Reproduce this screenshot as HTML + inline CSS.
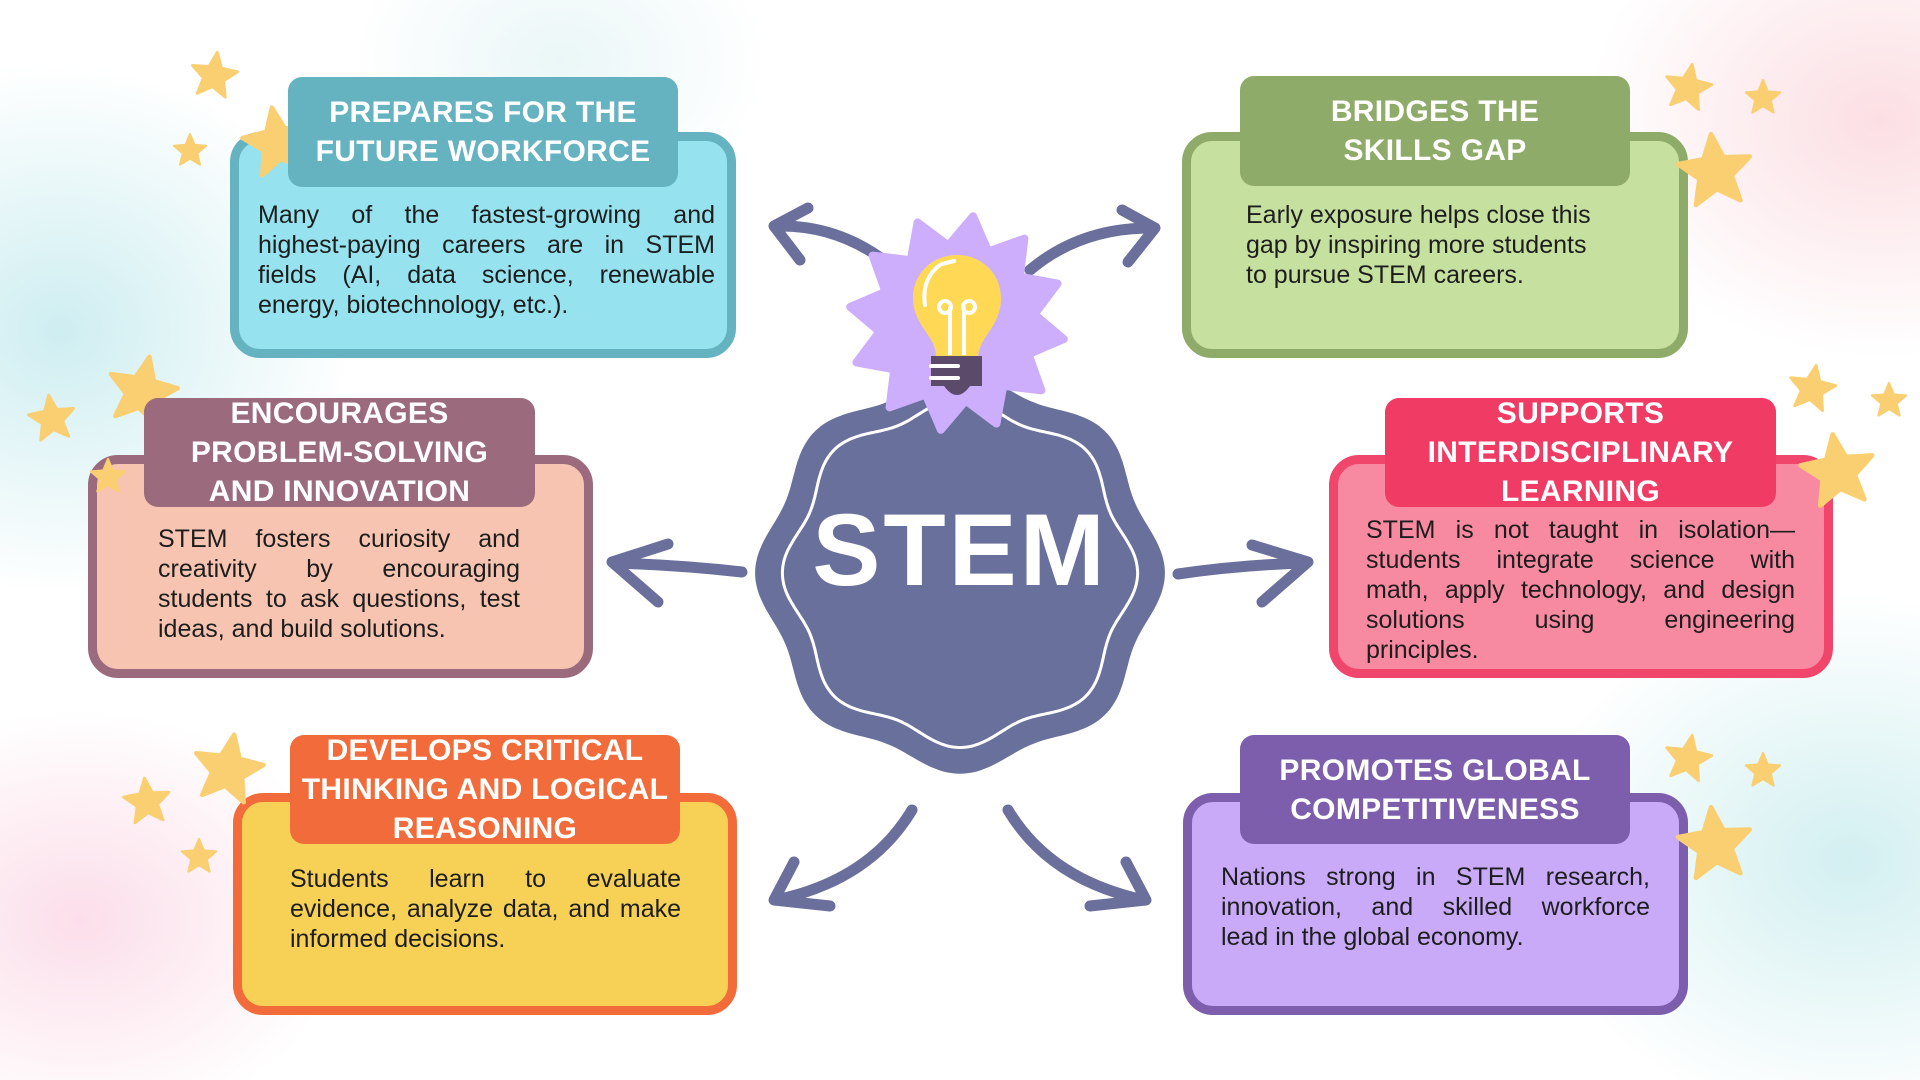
<!DOCTYPE html>
<html><head><meta charset="utf-8">
<style>
html,body{margin:0;padding:0}
body{width:1920px;height:1080px;position:relative;overflow:hidden;background:#fff;font-family:"Liberation Sans",sans-serif;}
.bg{position:absolute;inset:0;background:
radial-gradient(ellipse 420px 380px at 60px 330px,rgba(190,232,236,.75),rgba(255,255,255,0) 70%),
radial-gradient(ellipse 380px 300px at 80px 920px,rgba(250,208,224,.7),rgba(255,255,255,0) 70%),
radial-gradient(ellipse 420px 340px at 1880px 120px,rgba(250,212,218,.75),rgba(255,255,255,0) 70%),
radial-gradient(ellipse 460px 380px at 1850px 860px,rgba(196,234,236,.75),rgba(255,255,255,0) 70%),
radial-gradient(ellipse 300px 220px at 560px 60px,rgba(214,238,240,.5),rgba(255,255,255,0) 70%);}
.box{position:absolute;box-sizing:border-box;border:9px solid;border-radius:30px;z-index:1}
.tab{position:absolute;border-radius:14px;z-index:3;display:flex;flex-direction:column;align-items:center;justify-content:center;color:#fff;font-weight:bold;font-size:30px;line-height:39px;text-align:center;letter-spacing:0.3px;white-space:nowrap}
.txt{position:absolute;z-index:4;font-size:25px;line-height:30px;color:#1d1d1d}
.txt div{text-align:justify;text-align-last:justify;white-space:nowrap}
.txt div.l{text-align-last:left}
svg{position:absolute;left:0;top:0}
</style></head><body>
<div class="bg"></div>

<div class="box" style="left:230px;top:132px;width:506px;height:226px;background:#96e3ef;border-color:#65b2c0"></div>
<div class="box" style="left:1182px;top:132px;width:506px;height:226px;background:#c6e09f;border-color:#8fab6a"></div>
<div class="box" style="left:88px;top:455px;width:505px;height:223px;background:#f7c4b1;border-color:#9b6b7d"></div>
<div class="box" style="left:1329px;top:455px;width:504px;height:223px;background:#f78aa0;border-color:#f0466b"></div>
<div class="box" style="left:233px;top:793px;width:504px;height:222px;background:#f7d156;border-color:#f26b3a"></div>
<div class="box" style="left:1183px;top:793px;width:505px;height:222px;background:#c8aaf8;border-color:#7d5eac"></div>

<svg width="1920" height="1080" style="z-index:2">
<defs>
<polygon id="st" points="0,-1 0.265,-0.364 0.951,-0.309 0.428,0.139 0.588,0.809 0,0.45 -0.588,0.809 -0.428,0.139 -0.951,-0.309 -0.265,-0.364" fill="#f9cf72" stroke="#f9cf72" stroke-width="0.12" stroke-linejoin="round"/>
</defs>
<g>
<use href="#st" transform="translate(214,76) scale(24) rotate(8)"/>
<use href="#st" transform="translate(278,143) scale(36) rotate(-10)"/>
<use href="#st" transform="translate(190,151) scale(17)"/>
<use href="#st" transform="translate(142,392) scale(36) rotate(12)"/>
<use href="#st" transform="translate(52,419) scale(24) rotate(-8)"/>
<use href="#st" transform="translate(108,477) scale(18)"/>
<use href="#st" transform="translate(1688,88) scale(24) rotate(10)"/>
<use href="#st" transform="translate(1763,98) scale(18)"/>
<use href="#st" transform="translate(1715,172) scale(38) rotate(-6)"/>
<use href="#st" transform="translate(1812,389) scale(24) rotate(10)"/>
<use href="#st" transform="translate(1889,401) scale(18)"/>
<use href="#st" transform="translate(1838,472) scale(38) rotate(-8)"/>
<use href="#st" transform="translate(228,770) scale(36) rotate(10)"/>
<use href="#st" transform="translate(147,802) scale(24) rotate(-6)"/>
<use href="#st" transform="translate(199,857) scale(18)"/>
<use href="#st" transform="translate(1688,759) scale(24) rotate(10)"/>
<use href="#st" transform="translate(1763,771) scale(18)"/>
<use href="#st" transform="translate(1715,845) scale(38) rotate(-6)"/>
</g>
<g fill="none" stroke="#6a6f9c" stroke-width="11" stroke-linecap="round" stroke-linejoin="round">
<path d="M890,265 Q840,225 778,226"/><path d="M808,208 L774,226 L800,260"/>
<path d="M1030,270 Q1080,228 1150,228"/><path d="M1122,210 L1155,228 L1128,262"/>
<path d="M742,572 Q680,565 614,563"/><path d="M668,544 L612,562 L658,602"/>
<path d="M1178,574 Q1240,565 1305,563"/><path d="M1252,545 L1308,562 L1262,602"/>
<path d="M912,810 Q870,880 776,900"/><path d="M794,862 L774,900 L830,906"/>
<path d="M1008,810 Q1050,880 1144,900"/><path d="M1126,862 L1146,900 L1090,906"/>
</g>
<path id="badge" fill="#69709c"/>
<path id="badge2" fill="none" stroke="#fff" stroke-width="3"/>
<text x="960" y="585" text-anchor="middle" font-family="Liberation Sans, sans-serif" font-weight="bold" font-size="102" fill="#fff" letter-spacing="3">STEM</text>
<path id="burst" fill="#cdaefc" stroke="#cdaefc" stroke-width="8" stroke-linejoin="round"/>
<path d="M957,255 C932,255 913,274 913,298 C913,315 922,326 930,338 C935,346 936,352 936,358 L978,358 C978,352 980,346 985,338 C993,326 1001,315 1001,298 C1001,274 982,255 957,255 Z" fill="#ffd955"/>
<path d="M925,305 C922,285 930,272 940,265" stroke="#fff" stroke-width="4" fill="none" stroke-linecap="round"/>
<path d="M942,264 L954,261" stroke="#fff" stroke-width="4" stroke-linecap="round"/>
<path d="M950,355 L950,307 M964,355 L964,307" stroke="#fff" stroke-width="4"/>
<circle cx="945" cy="307" r="6" stroke="#fff" stroke-width="4" fill="none"/>
<circle cx="969" cy="307" r="6" stroke="#fff" stroke-width="4" fill="none"/>
<path d="M931,356 L982,356 L982,386 L970,386 Q957,404 944,386 L931,386 Z" fill="#5c4a6b"/>
<path d="M931,366 L958,366 M931,378 L958,378" stroke="#fff" stroke-width="4" stroke-linecap="round"/>
</svg>

<div class="tab" style="left:288px;top:77px;width:390px;height:110px;background:#65b2c0"><div>PREPARES FOR THE</div><div>FUTURE WORKFORCE</div></div>
<div class="tab" style="left:1240px;top:76px;width:390px;height:110px;background:#8fab6a"><div>BRIDGES THE</div><div>SKILLS GAP</div></div>
<div class="tab" style="left:144px;top:398px;width:391px;height:109px;background:#9b6b7d"><div>ENCOURAGES</div><div>PROBLEM-SOLVING</div><div>AND INNOVATION</div></div>
<div class="tab" style="left:1385px;top:398px;width:391px;height:109px;background:#f03c64"><div>SUPPORTS</div><div>INTERDISCIPLINARY</div><div>LEARNING</div></div>
<div class="tab" style="left:290px;top:735px;width:390px;height:109px;background:#f26b3a"><div>DEVELOPS CRITICAL</div><div>THINKING AND LOGICAL</div><div>REASONING</div></div>
<div class="tab" style="left:1240px;top:735px;width:390px;height:109px;background:#7d5eac"><div>PROMOTES GLOBAL</div><div>COMPETITIVENESS</div></div>

<div class="txt" style="left:258px;top:200px;width:457px">
<div>Many of the fastest-growing and</div><div>highest-paying careers are in STEM</div><div>fields (AI, data science, renewable</div><div class="l">energy, biotechnology, etc.).</div></div>
<div class="txt" style="left:1246px;top:200px;width:420px">
<div class="l">Early exposure helps close this</div><div class="l">gap by inspiring more students</div><div class="l">to pursue STEM careers.</div></div>
<div class="txt" style="left:158px;top:524px;width:362px">
<div>STEM fosters curiosity and</div><div>creativity by encouraging</div><div>students to ask questions, test</div><div class="l">ideas, and build solutions.</div></div>
<div class="txt" style="left:1366px;top:515px;width:429px">
<div>STEM is not taught in isolation—</div><div>students integrate science with</div><div>math, apply technology, and design</div><div>solutions using engineering</div><div class="l">principles.</div></div>
<div class="txt" style="left:290px;top:864px;width:391px">
<div>Students learn to evaluate</div><div>evidence, analyze data, and make</div><div class="l">informed decisions.</div></div>
<div class="txt" style="left:1221px;top:862px;width:429px">
<div>Nations strong in STEM research,</div><div>innovation, and skilled workforce</div><div class="l">lead in the global economy.</div></div>

<script>
(function(){
function wavy(cx,cy,rx,ry,amp,n){
 var d='';
 for(var i=0;i<=360;i++){
  var a=i*Math.PI/180;
  var k=1+amp*Math.cos(n*(a-Math.PI/2));
  var x=cx+rx*k*Math.cos(a), y=cy+ry*k*Math.sin(a);
  d+=(i?'L':'M')+x.toFixed(1)+','+y.toFixed(1);
 }
 return d+'Z';
}
document.getElementById('badge').setAttribute('d',wavy(960,573,197,193,0.04,8));
document.getElementById('badge2').setAttribute('d',wavy(960,573,170,167,0.045,8));
var d='',cx=957,cy=323,R=108,r=78,n=12;
for(var i=0;i<2*n;i++){
 var a=-Math.PI/2+i*Math.PI/n+0.15;
 var rr=i%2?r:R;
 d+=(i?'L':'M')+(cx+rr*Math.cos(a)).toFixed(1)+','+(cy+rr*Math.sin(a)).toFixed(1);
}
document.getElementById('burst').setAttribute('d',d+'Z');
})();
</script>
</body></html>
